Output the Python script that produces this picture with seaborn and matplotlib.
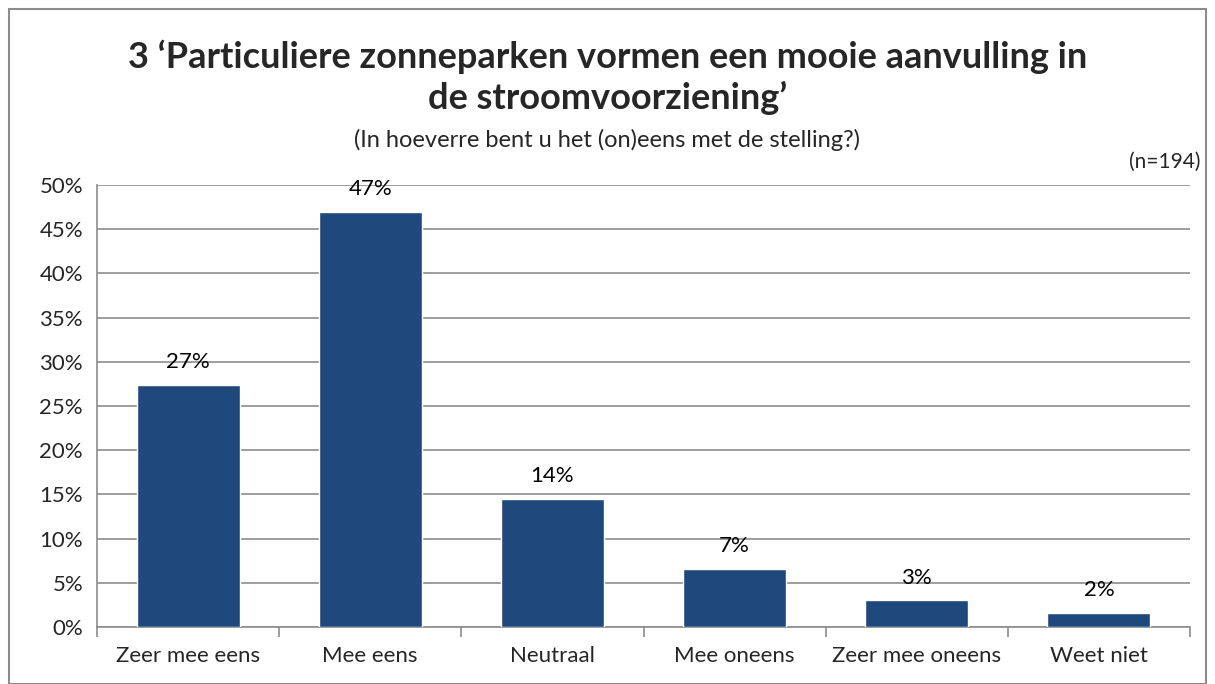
import matplotlib
matplotlib.use('Agg')
import matplotlib.pyplot as plt
import seaborn as sns
import pandas as pd
from matplotlib.patches import Rectangle
from matplotlib.ticker import PercentFormatter

# Data
categories = ['Zeer mee eens', 'Mee eens', 'Neutraal', 'Mee oneens', 'Zeer mee oneens', 'Weet niet']
values = [27.4, 47.0, 14.5, 6.6, 3.0, 1.6]
labels = ['27%', '47%', '14%', '7%', '3%', '2%']

df = pd.DataFrame({'Antwoord': categories, 'Percentage': values})

sns.set_style('white')
plt.rcParams['font.family'] = ['Lato', 'DejaVu Sans']

fig = plt.figure(figsize=(12.15, 6.84), dpi=100)
ax = fig.add_axes([97 / 1215, 1 - 627 / 684, (1190 - 97) / 1215, (627 - 185) / 684])

sns.barplot(data=df, x='Antwoord', y='Percentage', color='#1F497D', width=0.565,
            saturation=1, ax=ax, zorder=3)

# bar labels
for i, (v, lab) in enumerate(zip(values, labels)):
    ax.text(i, v + 1.4, lab, ha='center', va='bottom', fontsize=16, color='black')

ax.set_ylim(0, 50)
ax.set_xlim(-0.5, len(categories) - 0.5)
ax.set_yticks(range(0, 51, 5))
ax.yaxis.set_major_formatter(PercentFormatter(decimals=0))
ax.yaxis.grid(True, color='#8c8c8c', linewidth=1.2, zorder=0)
ax.set_axisbelow(True)
ax.set_xlabel('')
ax.set_ylabel('')

# category tick marks at the boundaries
ax.set_xticks([i - 0.5 for i in range(len(categories) + 1)], minor=True)
ax.tick_params(axis='x', which='minor', length=7, width=1.2, color='#8c8c8c', direction='out')
ax.tick_params(axis='x', which='major', length=0, labelsize=16, pad=14)
ax.tick_params(axis='y', length=7, width=1.2, color='#8c8c8c', direction='out', labelsize=16, pad=3)
ax.tick_params(axis='x', bottom=True, which='both')

for side in ['top', 'right']:
    ax.spines[side].set_visible(False)
for side in ['left', 'bottom']:
    ax.spines[side].set_color('#8c8c8c')
    ax.spines[side].set_linewidth(1.2)

# titles
fig.text(0.5, 1 - 57 / 684, '3 \u2018Particuliere zonneparken vormen een mooie aanvulling in',
         ha='center', va='center', fontsize=26, fontweight='bold')
fig.text(0.5, 1 - 98 / 684, 'de stroomvoorziening\u2019',
         ha='center', va='center', fontsize=26, fontweight='bold')
fig.text(0.5, 1 - 140 / 684, '(In hoeverre bent u het (on)eens met de stelling?)',
         ha='center', va='center', fontsize=17)
fig.text(1200 / 1215, 1 - 162 / 684, '(n=194)', ha='right', va='center', fontsize=15)

# outer frame
fig.patches.append(Rectangle((9 / 1215, 0), 1 - 18 / 1215, 1 - 9 / 684,
                             transform=fig.transFigure, fill=False,
                             edgecolor='#8c8c8c', linewidth=1.5))

fig.savefig('out.png', dpi=100)
